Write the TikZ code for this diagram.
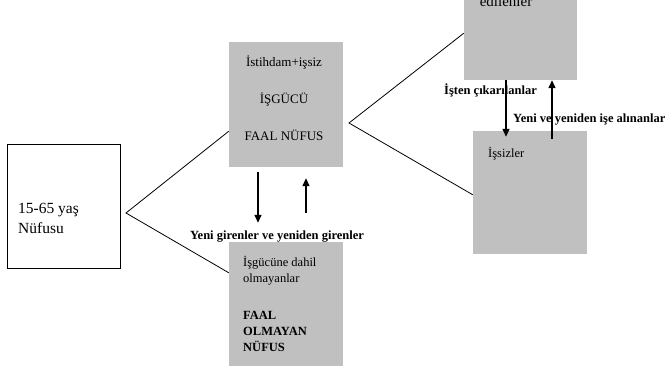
\documentclass[tikz,border=0pt]{standalone}
\usepackage{fontspec}
\setmainfont{Liberation Serif}
\usetikzlibrary{arrows.meta}
\definecolor{boxgray}{RGB}{192,192,192}

\begin{document}
\begin{tikzpicture}[x=1pt, y=-1pt,
    graybox/.style={fill=boxgray, inner sep=0pt, minimum width=114pt},
    txt/.style={inner sep=0pt, font=\fontsize{13}{15}\selectfont},
    flowlabel/.style={inner sep=0pt, font=\fontsize{12.5}{15}\selectfont\bfseries},
    flow/.style={line width=1.4pt, -{Triangle[length=8pt,width=7pt]}},
    link/.style={line width=0.8pt}]
\clip (0,0) rectangle (665,371);

\node[draw, line width=0.8pt, fill=white, minimum width=113pt, minimum height=124pt] (pop) at (63.5,206) {};
\node[graybox, minimum height=125pt] (faal) at (286,104.5) {};
\node[graybox, minimum height=124pt] (inactive) at (286,304) {};
\node[graybox, minimum width=113pt, minimum height=124pt] (employed) at (520.5,18) {};
\node[graybox, minimum height=123pt] (unemp) at (530,192.5) {};

\node[txt, align=left, anchor=west, font=\fontsize{15.5}{20}\selectfont] (poptext) at (18,218) {15-65 yaş\\Nüfusu};
\node[txt, align=center, font=\fontsize{13}{37}\selectfont] (faaltext) at (284,98.5) {İstihdam+işsiz\\İŞGÜCÜ\\FAAL NÜFUS};
\node[txt, align=left, anchor=west, font=\fontsize{12.5}{16}\selectfont] (inactivetext) at (243,304)
    {İşgücüne dahil\\olmayanlar\\[21pt]\textbf{FAAL}\\\textbf{OLMAYAN}\\\textbf{NÜFUS}};
\node[txt, anchor=base, font=\fontsize{15}{18}\selectfont] (employedtext) at (506,7) {edilenler};
\node[txt, anchor=base west, font=\fontsize{12.5}{15}\selectfont] (unemptext) at (488,157.5) {İşsizler};

\node[flowlabel, anchor=base] (entrants) at (277,239.5) {Yeni girenler ve yeniden girenler};
\node[flowlabel, anchor=base west] (fired) at (444,94.5) {İşten çıkarılanlar};
\node[flowlabel, anchor=base west] (hired) at (513,122.5) {Yeni ve yeniden işe alınanlar};

\coordinate (lsplit) at (126,213);
\coordinate (rsplit) at (349,123);
\draw[link] ([yshift=36pt]faal.south west) -- (lsplit) -- ([yshift=-31pt]inactive.north west);
\draw[link] ([yshift=47pt]employed.south west) -- (rsplit) -- ([yshift=-64pt]unemp.north west);

\draw[flow, shorten <=5pt, shorten >=19pt] ([xshift=-28pt]faal.south) -- ([xshift=-28pt]inactive.north);
\draw[flow, shorten <=29pt, shorten >=11pt] ([xshift=20pt]inactive.north) -- ([xshift=20pt]faal.south);
\draw[flow, shorten >=-6pt] ([xshift=-14.5pt]employed.south) -- ([xshift=-14.5pt]employed.south |- unemp.north);
\draw[flow, shorten <=-8pt] ([xshift=31.5pt]employed.south |- unemp.north) -- ([xshift=31.5pt]employed.south);

\end{tikzpicture}
\end{document}
